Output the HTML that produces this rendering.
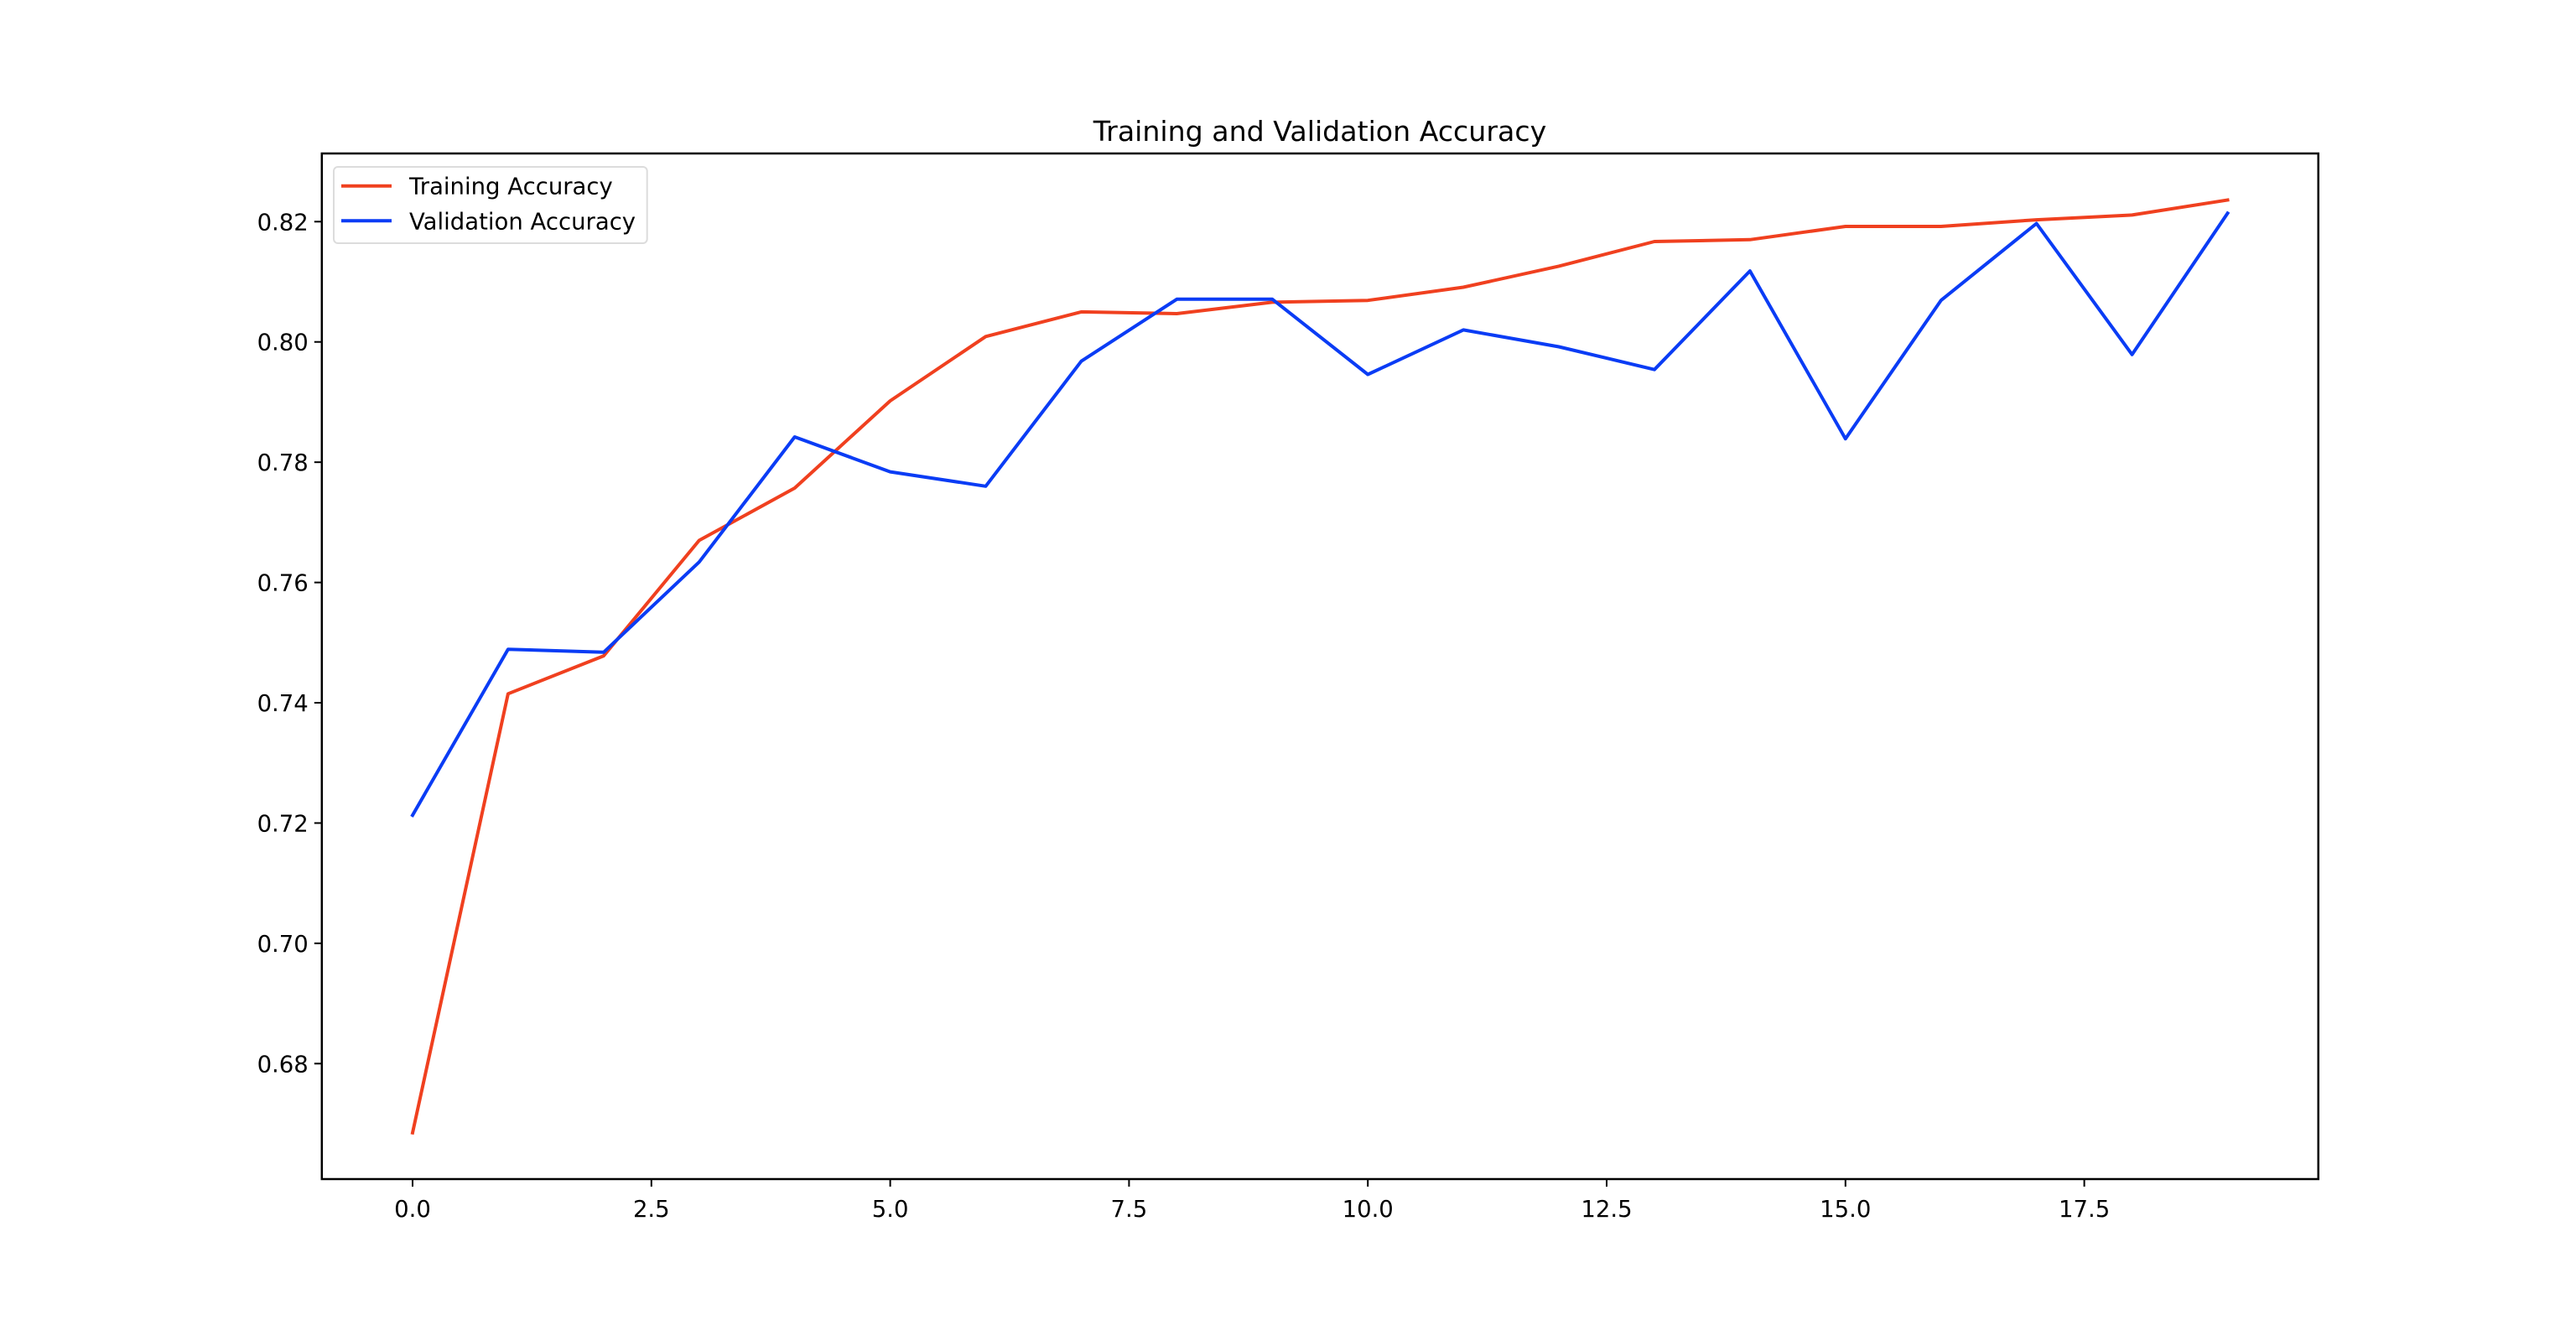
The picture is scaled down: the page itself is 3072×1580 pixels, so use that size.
<!DOCTYPE html>
<html><head><meta charset="utf-8"><style>
html,body{margin:0;padding:0;background:#fff;}
svg{display:block;font-family:"DejaVu Sans","Liberation Sans",sans-serif;}
</style></head><body>
<svg id="chart" width="3072" height="1580" viewBox="0 0 3072 1580" xmlns="http://www.w3.org/2000/svg">
<rect width="3072" height="1580" fill="#fff"/>
<text x="1574" y="168" font-size="33.2" text-anchor="middle">Training and Validation Accuracy</text>
<g id="plot"></g>
</svg>
<script>
const epochs = [0,1,2,3,4,5,6,7,8,9,10,11,12,13,14,15,16,17,18,19];
const trainAcc = [0.6685,0.7415,0.7478,0.767,0.7757,0.7902,0.8009,0.805,0.8047,0.8066,0.8069,0.8091,0.8126,0.8167,0.817,0.8192,0.8192,0.8203,0.8211,0.8236];
const valAcc = [0.7213,0.7489,0.7484,0.7634,0.7842,0.7784,0.776,0.7968,0.8071,0.8071,0.7946,0.802,0.7992,0.7954,0.8118,0.7839,0.8069,0.8197,0.7979,0.8214];
const xTicks = [0,2.5,5,7.5,10,12.5,15,17.5];
const xTickLabels = ["0.0","2.5","5.0","7.5","10.0","12.5","15.0","17.5"];
const yTicks = [0.68,0.70,0.72,0.74,0.76,0.78,0.80,0.82];
const yTickLabels = ["0.68","0.70","0.72","0.74","0.76","0.78","0.80","0.82"];

const L=383.8,R=2764.7,T=183,B=1406;
const xMin=-0.95,xMax=19.95;
const y0v=0.68,y0p=1268.3,y1v=0.82,y1p=264.3;
const sx=v=>L+(v-xMin)/(xMax-xMin)*(R-L);
const sy=v=>y0p+(v-y0v)/(y1v-y0v)*(y1p-y0p);
const NS="http://www.w3.org/2000/svg";
const g=document.getElementById('plot');
function mk(tag,attrs,parent){const e=document.createElementNS(NS,tag);for(const k in attrs)e.setAttribute(k,attrs[k]);(parent||g).appendChild(e);return e;}

function series(vals,color,name){
  const p=mk('polyline',{points:vals.map((v,i)=>sx(epochs[i]).toFixed(1)+','+sy(v).toFixed(1)).join(' '),fill:'none',stroke:color,'stroke-width':4,'stroke-linejoin':'round','stroke-linecap':'square'});
  
  
}
series(trainAcc,'#f0401f','training-accuracy-line');
series(valAcc,'#0a3cf5','validation-accuracy-line');

const frame=mk('rect',{x:L,y:T,width:R-L,height:B-T,fill:'none',stroke:'#000','stroke-width':2.5});



xTicks.forEach((v,i)=>{
  const x=sx(v);
  const t=mk('line',{x1:x,x2:x,y1:B,y2:B+9,stroke:'#000','stroke-width':2});
  
  
  const tx=mk('text',{x:x,y:B+45,'font-size':27.5,'text-anchor':'middle'});
  tx.textContent=xTickLabels[i];
  
  
});
yTicks.forEach((v,i)=>{
  const y=sy(v);
  const t=mk('line',{x1:L-9,x2:L,y1:y,y2:y,stroke:'#000','stroke-width':2});
  
  
  const tx=mk('text',{x:L-16,y:y+10,'font-size':27.5,'text-anchor':'end'});
  tx.textContent=yTickLabels[i];
  
  
});

const lg=mk('g',{});


mk('rect',{x:398,y:199,width:373.7,height:91,rx:5,fill:'#fff','fill-opacity':0.8,stroke:'#dcdcdc','stroke-width':2},lg);
const entries=[['Training Accuracy','#f0401f',221.7],['Validation Accuracy','#0a3cf5',263.3]];
entries.forEach(e=>{
  const eg=mk('g',{},lg);
  
  
  mk('line',{x1:407,x2:467,y1:e[2],y2:e[2],stroke:e[1],'stroke-width':4},eg);
  const tx=mk('text',{x:488,y:e[2]+10,'font-size':27.5},eg);
  tx.textContent=e[0];
});
</script>
</body></html>
